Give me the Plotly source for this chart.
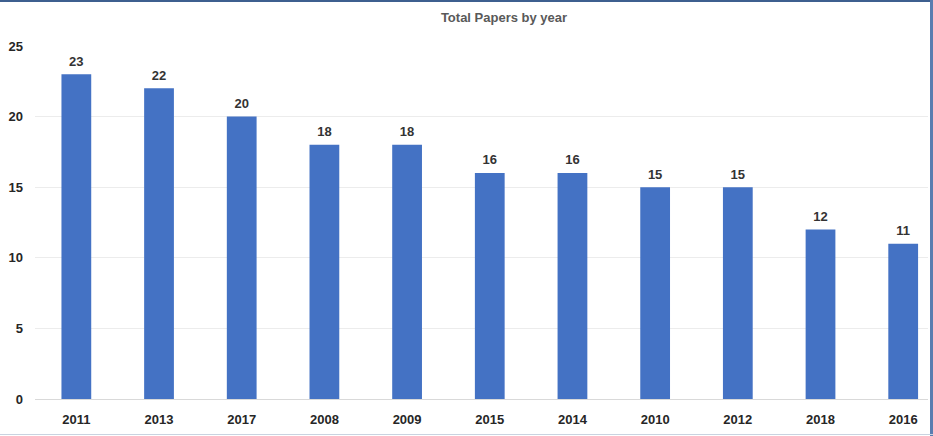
import plotly.graph_objects as go

years = ["2011", "2013", "2017", "2008", "2009", "2015", "2014", "2010", "2012", "2018", "2016"]
papers = [23, 22, 20, 18, 18, 16, 16, 15, 15, 12, 11]
y_ticks = [0, 5, 10, 15, 20, 25]

W, H = 933, 436
L, R, T, B = 35, 5, 46, 37
FONT = "Liberation Sans"

fig = go.Figure()
fig.add_trace(go.Bar(
    x=years, y=papers,
    marker=dict(color="#4472C4", line=dict(width=0)),
    cliponaxis=False,
))
fig.add_trace(go.Scatter(
    x=years, y=papers, mode="markers+text",
    marker=dict(size=7, opacity=0),
    text=["<b>%d</b>" % v for v in papers], textposition="top center",
    textfont=dict(family=FONT, size=13, color="#333333"),
    cliponaxis=False, hoverinfo="skip",
))

fig.update_layout(
    width=W, height=H,
    margin=dict(l=L, r=R, t=T, b=B),
    paper_bgcolor="white", plot_bgcolor="white",
    bargap=0.64,
    showlegend=False,
    title=dict(text="<b>Total Papers by year</b>", x=504 / W, xanchor="center", y=1 - 17 / H, yanchor="middle",
               font=dict(family=FONT, size=13, color="#595959")),
    font=dict(family=FONT, size=13, color="#262626"),
)
fig.update_xaxes(range=[-0.5, 10.3], showgrid=False, showline=False, ticks="",
                 ticklabelstandoff=11,
                 tickvals=years, ticktext=["<b>%s</b>" % y for y in years],
                 tickfont=dict(family=FONT, size=13, color="#262626"))
fig.update_yaxes(range=[0, 25], tickvals=y_ticks, ticktext=["<b>%d</b>" % t for t in y_ticks],
                 showgrid=True, gridcolor="#ececec", gridwidth=1,
                 zeroline=True, zerolinecolor="#d9d9d9", zerolinewidth=1, showline=False, ticks="",
                 ticklabelstandoff=11,
                 tickfont=dict(family=FONT, size=13, color="#262626"))

pw = W - L - R
ph = H - T - B
def px(x):
    return (x - L) / pw
def py(y):
    return (H - B - y) / ph

fig.add_shape(type="line", xref="paper", yref="paper", x0=px(0), x1=px(W), y0=py(1), y1=py(1),
              line=dict(color="#3d5f8f", width=2))
fig.add_shape(type="line", xref="paper", yref="paper", x0=px(931.5), x1=px(931.5), y0=py(0), y1=py(H),
              line=dict(color="#5a7db0", width=3))
fig.add_shape(type="line", xref="paper", yref="paper", x0=px(0), x1=px(W), y0=py(434.5), y1=py(434.5),
              line=dict(color="#c9d3e0", width=1))

fig.write_html("out.html")
